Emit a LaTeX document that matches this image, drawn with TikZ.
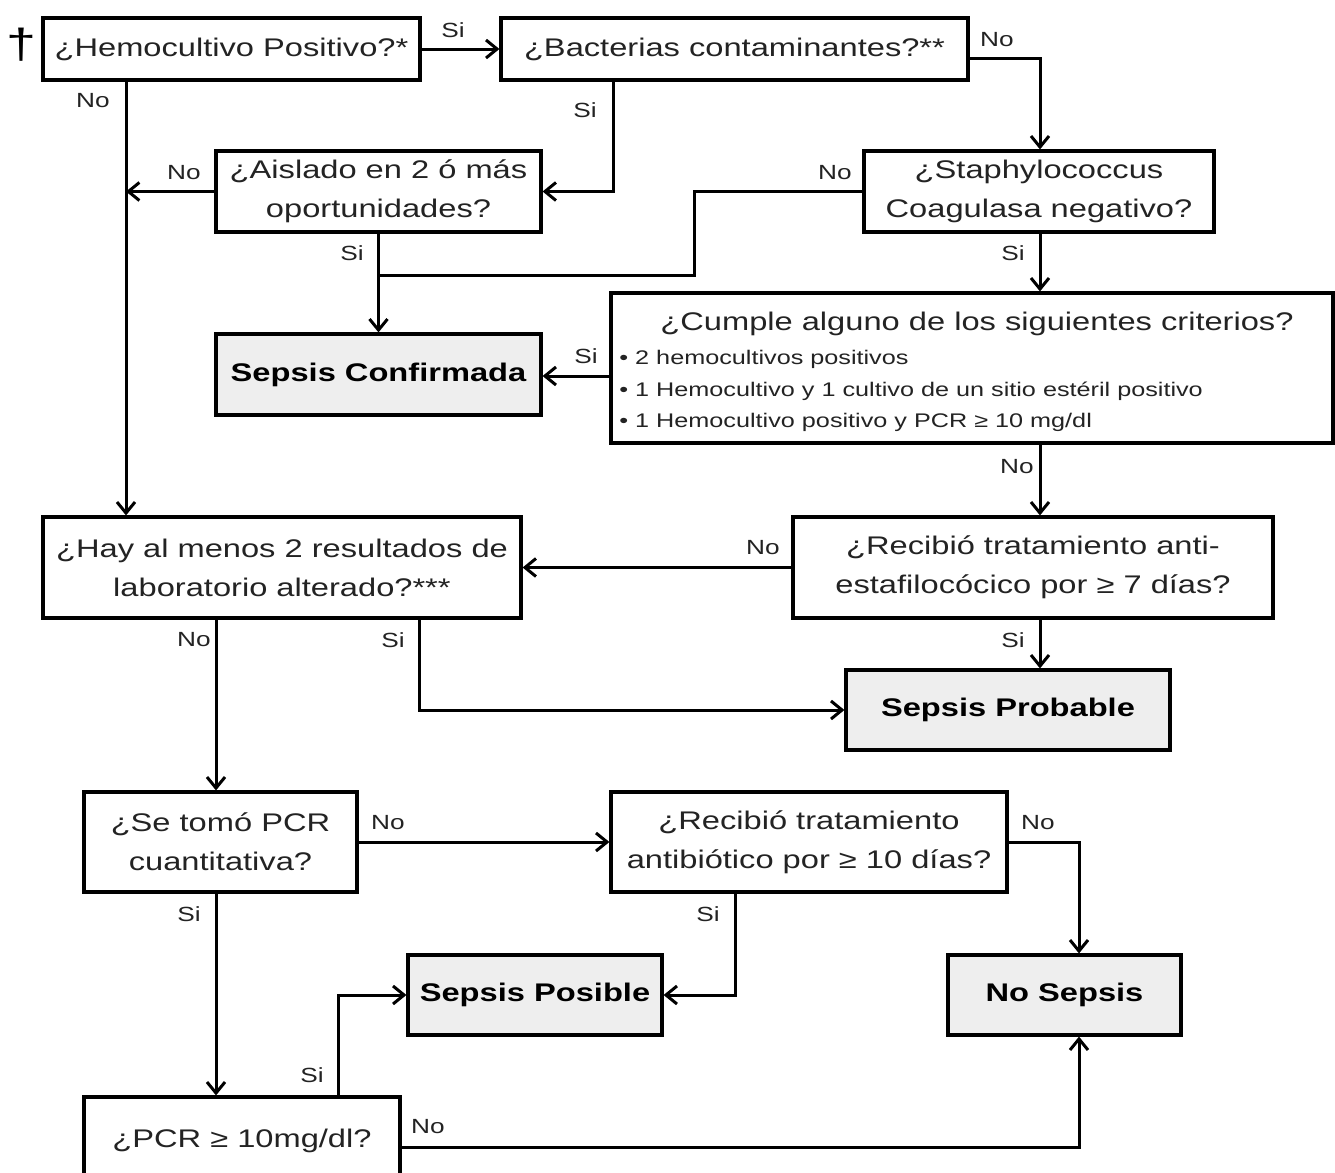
\documentclass[tikz,border=0pt]{standalone}
\usepackage{fontspec}
\setmainfont{Liberation Sans}[FakeStretch=1.28]
\usetikzlibrary{arrows.meta}
\definecolor{txt}{RGB}{35,35,35}
\definecolor{fillg}{RGB}{238,238,238}
\newcommand{\mainf}{\fontsize{12.75pt}{19.5pt}\selectfont}
\newcommand{\bulf}{\fontsize{9.85pt}{15.75pt}\selectfont}
\newcommand{\labf}{\fontsize{10.25pt}{12pt}\selectfont}
\begin{document}
\begin{tikzpicture}[x=0.5pt,y=-0.5pt,
  box/.style={draw=black, line width=1.6pt, inner sep=0pt, align=center, text=txt, font=\mainf},
  res/.style={box, fill=fillg, text=black, font=\mainf\bfseries},
  lab/.style={inner sep=0pt, text=txt, font=\labf},
  conn/.style={draw=black, line width=1.5pt},
  arr/.style={conn, -{Straight Barb[length=5.5pt,width=9pt]}}]
\fill[white] (0,0) rectangle (1335,1173);
\useasboundingbox (0,0) rectangle (1335,1173);

% column / row coordinates
\coordinate (xA) at (126,0);
\coordinate (xB) at (613,0);
\coordinate (xE) at (1040,0);
\coordinate (xF) at (216,0);
\coordinate (xG) at (419,0);
\coordinate (xH) at (735,0);
\coordinate (xI) at (1079,0);
\coordinate (xJ) at (338,0);
\coordinate (turnC) at (694,275);
\coordinate (joinC) at (379,275);

% dagger
\node[inner sep=0pt, text=black, font=\fontsize{21pt}{22pt}\selectfont] (dag) at (21,45) {†};

% boxes
\node[box, minimum width=188.5pt, minimum height=31pt] (hemo) at (231.5,49) {¿Hemocultivo Positivo?*};
\node[box, minimum width=233.5pt, minimum height=31pt] (bact) at (734.5,49) {¿Bacterias contaminantes?**};
\node[box, minimum width=162.5pt, minimum height=40.5pt] (aisl) at (378.5,191.5) {¿Aislado en 2 ó más\\oportunidades?};
\node[box, minimum width=175pt, minimum height=40.5pt] (staph) at (1039,191.5) {¿Staphylococcus\\Coagulasa negativo?};
\node[res, minimum width=162.5pt, minimum height=40.5pt] (conf) at (378.5,374.5) {Sepsis Confirmada};
\node[box, minimum width=361pt, minimum height=75pt] (cumple) at (972,368) {};
\node[inner sep=0pt, text=txt, font=\mainf] (cumpleT) at (977,324) {¿Cumple alguno de los siguientes criterios?};
\node[inner sep=0pt, text=txt, font=\bulf, align=left, anchor=west] (cumpleB) at (619,391) {• 2 hemocultivos positivos\\• 1 Hemocultivo y 1 cultivo de un sitio estéril positivo\\• 1 Hemocultivo positivo y PCR ≥ 10 mg/dl};
\node[box, minimum width=239pt, minimum height=50.5pt] (hay) at (282,567.5) {¿Hay al menos 2 resultados de\\laboratorio alterado?***};
\node[box, minimum width=240pt, minimum height=50.5pt] (anti) at (1033,567.5) {¿Recibió tratamiento anti-\\estafilocócico por ≥ 7 días?};
\node[res, minimum width=162pt, minimum height=40pt] (prob) at (1008,710) {Sepsis Probable};
\node[box, minimum width=136.5pt, minimum height=50pt] (tomo) at (220.5,842) {¿Se tomó PCR\\cuantitativa?};
\node[box, minimum width=198pt, minimum height=50pt] (atb) at (809,842) {¿Recibió tratamiento\\antibiótico por ≥ 10 días?};
\node[res, minimum width=127pt, minimum height=40pt] (posi) at (535,995) {Sepsis Posible};
\node[res, minimum width=116.5pt, minimum height=40pt] (nosep) at (1064.5,995) {No Sepsis};
\node[box, minimum width=158pt, minimum height=50pt] (pcr) at (242,1147) {};
\node[inner sep=0pt, text=txt, font=\mainf] (pcrT) at (242,1141) {¿PCR ≥ 10mg/dl?};

% connectors
\draw[arr] (hemo) -- (bact);
\draw[arr] (hemo.south -| xA) -- (hay.north -| xA);
\draw[arr] (bact.south -| xB) |- (aisl.east);
\draw[arr] ([yshift=-4.5pt]bact.east) -| (staph.north -| xE);
\draw[arr] (aisl.west) -- (aisl.west -| xA);
\draw[arr] (aisl.south) -- (conf.north);
\draw[conn] (staph.west) -| (turnC) -- (joinC);
\draw[arr] (staph.south -| xE) -- (cumple.north -| xE);
\draw[arr] (cumple.west |- 0,376) -- (conf.east |- 0,376);
\draw[arr] (cumple.south -| xE) -- (anti.north -| xE);
\draw[arr] (anti.west) -- (hay.east);
\draw[arr] (anti.south -| xE) -- (prob.north -| xE);
\draw[arr] (hay.south -| xF) -- (tomo.north -| xF);
\draw[arr] (hay.south -| xG) |- (prob.west);
\draw[arr] (tomo.east) -- (atb.west);
\draw[arr] (tomo.south -| xF) -- (pcr.north -| xF);
\draw[arr] (atb.south -| xH) |- (posi.east);
\draw[arr] (atb.east) -| (nosep.north -| xI);
\draw[arr] (pcr.north -| xJ) |- (posi.west);
\draw[arr] (pcr.east) -| (nosep.south -| xI);

% labels
\node[lab] (l1) at (453,30) {Si};
\node[lab] (l2) at (93,101) {No};
\node[lab] (l3) at (585,110) {Si};
\node[lab] (l4) at (997,40) {No};
\node[lab] (l5) at (184,173) {No};
\node[lab] (l6) at (352,253) {Si};
\node[lab] (l7) at (835,173) {No};
\node[lab] (l8) at (1013,253) {Si};
\node[lab] (l9) at (586,356) {Si};
\node[lab] (l10) at (1017,467) {No};
\node[lab] (l11) at (763,548) {No};
\node[lab] (l12) at (1013,640) {Si};
\node[lab] (l13) at (194,640) {No};
\node[lab] (l14) at (393,640) {Si};
\node[lab] (l15) at (388,823) {No};
\node[lab] (l16) at (189,914) {Si};
\node[lab] (l17) at (708,914) {Si};
\node[lab] (l18) at (1038,823) {No};
\node[lab] (l19) at (312,1075) {Si};
\node[lab] (l20) at (428,1127) {No};
\end{tikzpicture}
\end{document}
